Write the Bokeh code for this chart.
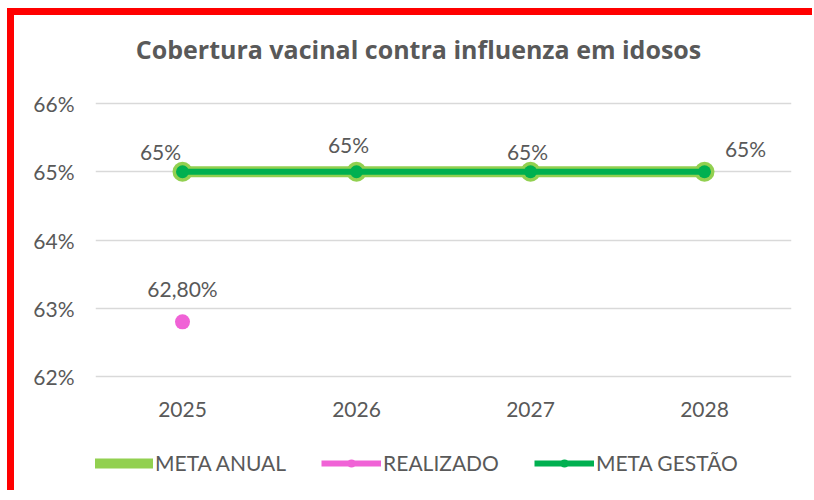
import numpy as np
from bokeh.plotting import figure
from bokeh.layouts import column
from bokeh.models import (Range1d, PrintfTickFormatter, Legend, LegendItem,
                          ColumnDataSource, FixedTicker, Label)
from bokeh.core.properties import value
from bokeh.embed import file_html
from bokeh.resources import INLINE

# ---- data ----
title_text = "Cobertura vacinal contra influenza em idosos"
years = ["2025", "2026", "2027", "2028"]
meta_anual = [65, 65, 65, 65]
meta_gestao = [65, 65, 65, 65]
realizado_years = ["2025"]
realizado = [62.8]
y_ticks = [62, 63, 64, 65, 66]
series_names = ["META ANUAL", "REALIZADO", "META GESTÃO"]

# label placement (style only)
ma_label_dx = [-22, -8, -3, 41]
ma_label_dy = [-20, -27, -20, -23]

FONT = "Lato"
GREY = "#595959"
LIGHT_GREEN = "#92D050"
DARK_GREEN = "#00B050"
PINK = "#F062D6"
W = 798


def bare(h):
    f = figure(width=W, height=h, output_backend="svg", toolbar_location=None,
               x_range=Range1d(0, 1), y_range=Range1d(0, 1),
               x_axis_location=None, y_axis_location=None,
               min_border=0, min_border_left=0, min_border_right=0,
               min_border_top=0, min_border_bottom=0)
    f.grid.visible = False
    f.outline_line_color = None
    f.border_fill_color = "white"
    return f


# ---- title strip (its frame is aligned with the main frame by the column) ----
head = bare(60)
head.add_layout(Label(x=323, y=27, x_units="screen", y_units="screen", text=title_text,
                      text_align="center", text_baseline="middle",
                      text_font="Open Sans", text_font_size="25px",
                      text_font_style="bold", text_color=GREY))

# ---- main chart ----
p = figure(
    x_range=years, y_range=Range1d(61.97, 66.03),
    width=W, height=355,
    output_backend="svg", toolbar_location=None,
    min_border_left=81, min_border_right=21, min_border_top=26, min_border_bottom=52,
)
p.outline_line_color = None
p.background_fill_color = "white"
p.border_fill_color = "white"

p.xgrid.grid_line_color = None
p.ygrid.grid_line_color = "#D9D9D9"
p.ygrid.grid_line_width = 1.5
p.yaxis.ticker = FixedTicker(ticks=y_ticks)
p.yaxis.formatter = PrintfTickFormatter(format="%d%%")
for ax in (p.xaxis[0], p.yaxis[0]):
    ax.axis_line_color = None
    ax.major_tick_line_color = None
    ax.minor_tick_line_color = None
    ax.major_label_text_font = FONT
    ax.major_label_text_font_size = "21px"
    ax.major_label_text_color = GREY
p.yaxis.major_label_standoff = 15
p.xaxis.major_label_standoff = 17

src_ma = ColumnDataSource(dict(x=years, y=meta_anual,
                               lbl=[f"{v:g}%" for v in meta_anual],
                               dx=ma_label_dx, dy=ma_label_dy))
src_mg = ColumnDataSource(dict(x=years, y=meta_gestao))
src_re = ColumnDataSource(dict(x=realizado_years, y=realizado,
                               lbl=[f"{v:.2f}%".replace(".", ",") for v in realizado]))

p.line("x", "y", source=src_ma, line_color=LIGHT_GREEN, line_width=11)
p.scatter("x", "y", source=src_ma, size=20, fill_color=LIGHT_GREEN, line_color=None)
p.scatter("x", "y", source=src_re, size=15, fill_color=PINK, line_color=None)
p.line("x", "y", source=src_mg, line_color=DARK_GREEN, line_width=6)
p.scatter("x", "y", source=src_mg, size=13, fill_color=DARK_GREEN, line_color=None)

p.text("x", "y", text="lbl", source=src_ma, x_offset="dx", y_offset="dy",
       text_align="center", text_baseline="middle", text_font=value(FONT),
       text_font_size="21px", text_color=GREY)
p.text("x", "y", text="lbl", source=src_re, x_offset=0, y_offset=-33,
       text_align="center", text_baseline="middle", text_font=value(FONT),
       text_font_size="21px", text_color=GREY)

# ---- legend strip (proxy renderers with no visible data) ----
leg = bare(60)
styles_ = [(LIGHT_GREEN, 10, 20), (PINK, 6, 15), (DARK_GREEN, 6, 13)]
items = []
for name, (col, lw, ms) in zip(series_names, styles_):
    r1 = leg.line(x=[np.nan], y=[np.nan], line_color=col, line_width=lw)
    r2 = leg.scatter(x=[np.nan], y=[np.nan], size=ms, fill_color=col, line_color=None)
    items.append(LegendItem(label=name, renderers=[r1, r2]))
legend = Legend(items=items, orientation="horizontal", location=(-2, 15))
legend.border_line_color = None
legend.background_fill_alpha = 0
legend.glyph_width = 60
legend.glyph_height = 20
legend.label_standoff = 2
legend.spacing = 35
legend.padding = 0
legend.margin = 0
legend.label_text_font = FONT
legend.label_text_font_size = "21px"
legend.label_text_color = GREY
leg.add_layout(legend, "center")

layout = column(head, p, leg, spacing=0,
                styles={"margin-top": "8px", "margin-left": "7px",
                        "border-top": "7px solid #FF0000",
                        "border-left": "7px solid #FF0000"})

open("out.html", "w").write(file_html(layout, INLINE))
